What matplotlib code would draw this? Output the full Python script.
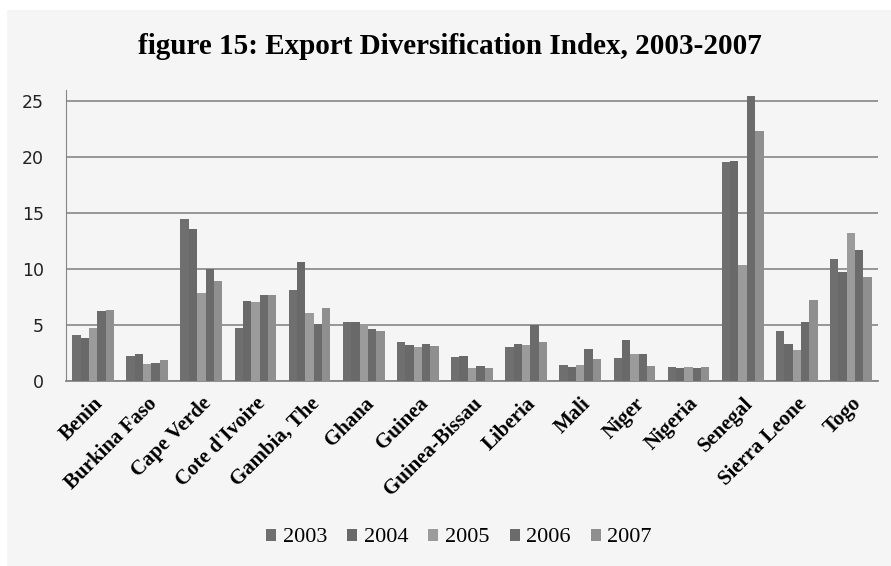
import numpy as np
import matplotlib.pyplot as plt
from matplotlib.patches import Rectangle

countries = ["Benin", "Burkina Faso", "Cape Verde", "Cote d'Ivoire", "Gambia, The",
             "Ghana", "Guinea", "Guinea-Bissau", "Liberia", "Mali", "Niger",
             "Nigeria", "Senegal", "Sierra Leone", "Togo"]
years = ["2003", "2004", "2005", "2006", "2007"]

v2003 = [4.1, 2.23, 14.46, 4.76, 8.13, 5.27, 3.48, 2.14, 3.04, 1.43, 2.05, 1.25, 19.55, 4.46, 10.89]
v2004 = [3.87, 2.41, 13.57, 7.14, 10.63, 5.27, 3.21, 2.23, 3.30, 1.25, 3.66, 1.16, 19.64, 3.30, 9.73]
v2005 = [4.73, 1.52, 7.86, 7.05, 6.07, 5.09, 3.04, 1.16, 3.21, 1.43, 2.41, 1.25, 10.36, 2.77, 13.21]
v2006 = [6.25, 1.60, 9.97, 7.68, 5.09, 4.64, 3.30, 1.34, 5.0, 2.86, 2.41, 1.16, 25.45, 5.27, 11.70]
v2007 = [6.34, 1.88, 8.93, 7.68, 6.52, 4.46, 3.13, 1.16, 3.48, 1.96, 1.34, 1.25, 22.32, 7.23, 9.29]

series = [v2003, v2004, v2005, v2006, v2007]
colors = ["#6f6f6f", "#696969", "#9b9b9b", "#6b6b6b", "#8f8f8f"]
bg = "#f5f5f5"

fig = plt.figure(figsize=(8.91, 5.66), dpi=100, facecolor="white")
fig.patches.append(Rectangle((7 / 891, 0), 1, 1 - 10 / 566, transform=fig.transFigure,
                             facecolor=bg, edgecolor="none", zorder=-10))
ax = fig.add_axes([66 / 891, 1 - 381 / 566, (878 - 66) / 891, (381 - 90) / 566])
ax.set_facecolor(bg)

x = np.arange(len(countries))
w = 0.154
for i, (vals, c) in enumerate(zip(series, colors)):
    ax.bar(x + (i - 2) * w, vals, width=w, color=c, label=years[i], zorder=3)

ax.set_xlim(-0.5, len(countries) - 0.5)
ax.set_ylim(0, 26)
ax.set_yticks([0, 5, 10, 15, 20, 25])
ax.yaxis.grid(True, color="#868686", linewidth=1.2)
ax.set_axisbelow(True)
for s in ["top", "right"]:
    ax.spines[s].set_visible(False)
ax.spines["left"].set_color("#868686")
ax.spines["bottom"].set_color("#868686")
ax.spines["bottom"].set_linewidth(1.3)
ax.tick_params(axis="y", length=0, pad=16, labelsize=12.5, labelcolor="#222222")
ax.tick_params(axis="x", length=0, pad=9)
for lab in ax.get_yticklabels():
    lab.set_family("DejaVu Sans")
ax.set_xticks(x)
ax.set_xticklabels(countries, rotation=45, ha="right", rotation_mode="anchor",
                   family="Liberation Serif", fontweight="bold", fontsize=15)

fig.text(0.505, 1 - 46 / 566, "figure 15: Export Diversification Index, 2003-2007",
         ha="center", va="center", family="Liberation Serif", fontweight="bold",
         fontsize=21)

fig.legend(loc="center", bbox_to_anchor=(459 / 891, 1 - 538 / 566), ncol=5, frameon=False,
           prop={"family": "Liberation Serif", "size": 16}, handlelength=0.45,
           handleheight=0.45, handletextpad=0.3, columnspacing=0.9)

fig.savefig("out.png", dpi=100, facecolor="white")
